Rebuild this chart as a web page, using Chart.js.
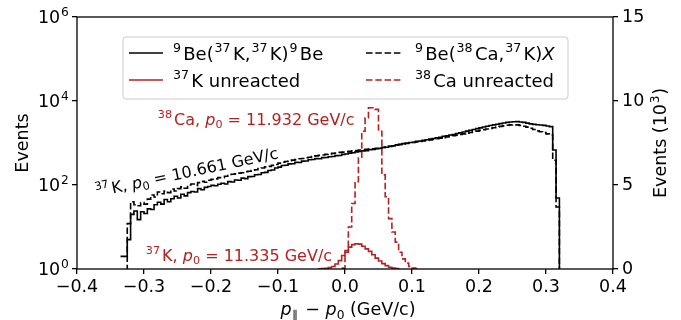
<!DOCTYPE html>
<html lang="en">
<head>
<meta charset="UTF-8">
<title>Parallel momentum distributions</title>
<script src="https://cdn.jsdelivr.net/npm/chart.js"></script>
<style>
  html, body { margin: 0; padding: 0; background: #fff; }
  canvas { display: block; }
</style>
</head>
<body>
<canvas id="chart" width="681" height="320"></canvas>
<script>
// histogram bins are 0.005 GeV/c wide, values listed from the left edge given
const binWidth = 0.005;

// 9Be(37K,37K)9Be and 9Be(38Ca,37K)X, left axis (log), edges from -0.335
const knockStart = -0.335;
const knockoutK = [
  2, 2, 5, 20, 24, 15, 23, 21, 27, 26, 34, 39, 35, 45, 40, 47, 54, 49, 60, 55,
  66, 70, 68, 82, 77, 88, 92, 98, 96, 104, 110, 106, 120, 118, 132, 130, 146, 142, 158, 160,
  175, 178, 196, 200, 222, 228, 255, 266, 292, 296, 318, 320, 345, 342, 370, 372, 398, 405, 425, 422,
  448, 452, 470, 476, 500, 505, 535, 545, 575, 585, 615, 625, 650, 660, 695, 700, 730, 745, 785, 795,
  835, 855, 905, 925, 965, 985, 1025, 1045, 1095, 1115, 1165, 1195, 1245, 1285, 1335, 1375, 1435, 1475, 1545, 1595,
  1685, 1745, 1835, 1915, 2005, 2095, 2205, 2295, 2405, 2495, 2605, 2695, 2805, 2895, 3005, 3095, 3155, 3195, 3225, 3175,
  3105, 2975, 2855, 2775, 2725, 2675, 2625, 2545, 2455, 680, 49, 0.1, 0.1
];
const knockoutCa = [
  0.1, 0.1, 12, 40, 34, 32, 38, 35, 46, 58, 52, 68, 62, 72, 66, 80, 72, 82, 90, 84,
  100, 106, 98, 114, 122, 116, 130, 136, 140, 150, 150, 162, 168, 180, 184, 192, 196, 208, 212, 224,
  230, 246, 254, 270, 278, 294, 308, 332, 348, 364, 372, 392, 402, 420, 428, 447, 458, 482, 493, 507,
  518, 537, 548, 567, 578, 597, 608, 622, 633, 652, 663, 682, 688, 707, 718, 732, 743, 762, 783, 812,
  833, 862, 888, 922, 948, 977, 998, 1032, 1058, 1092, 1118, 1152, 1188, 1222, 1258, 1302, 1338, 1392, 1428, 1482,
  1538, 1592, 1648, 1722, 1778, 1852, 1918, 2002, 2078, 2152, 2228, 2312, 2398, 2482, 2558, 2642, 2698, 2722, 2698, 2622,
  2498, 2382, 2248, 2102, 1948, 1852, 1778, 1652, 1548, 390, 30, 0.1, 0.1
];

// unreacted beams, right axis (10^3 events)
const unreactedKStart = -0.04;
const unreactedK = [
  0.01, 0.02, 0.04, 0.08, 0.15, 0.3, 0.5, 0.8, 1.1, 1.3, 1.45, 1.5, 1.48, 1.35, 1.2, 1.05,
  0.85, 0.65, 0.48, 0.32, 0.2, 0.1, 0.05, 0.02, 0
];
const unreactedCaStart = -0.005;
const unreactedCa = [
  0.05, 1.0, 2.5, 3.9, 5.2, 6.6, 8.2, 9.0, 9.6, 9.6, 9.5, 8.2, 5.6, 4.3, 3.0, 2.2,
  1.6, 1.0, 0.6, 0.35, 0.15, 0.05, 0.02, 0
];

const logTicks = [1, 1e2, 1e4, 1e6];
const logTickExp = ['0', '2', '4', '6'];

const RED = '#b22222';
const FONT = '"DejaVu Sans", sans-serif';
const FS = 17.5;

function steps(start, vals) {
  return vals.map((v, i) => ({ x: Math.round((start + i * binWidth) * 1000) / 1000, y: v }));
}

// rich text: parts are [text, style, extraAfter], style '' normal, 'i' italic, '^' sup, '_' sub
function partFont(style, size) {
  const s = (style === '^' || style === '_') ? size * 0.7 : size;
  return (style === 'i' ? 'italic ' : '') + s + 'px ' + FONT;
}
function advance(ctx, p, size) {
  ctx.font = partFont(p[1], size);
  let w = ctx.measureText(p[0]).width + (p[2] || 0);
  if (p[1] === '^') w += 0.18 * size;
  return w;
}
function richWidth(ctx, parts, size) {
  return parts.reduce((w, p) => w + advance(ctx, p, size), 0);
}
function drawRich(ctx, parts, x, y, size, color, align) {
  const w = richWidth(ctx, parts, size);
  let cx = align === 'center' ? x - w / 2 : align === 'right' ? x - w : x;
  ctx.fillStyle = color;
  ctx.textBaseline = 'alphabetic';
  ctx.textAlign = 'left';
  parts.forEach(p => {
    const a = advance(ctx, p, size);
    ctx.font = partFont(p[1], size);
    let dy = 0, dx = 0;
    if (p[1] === '^') { dy = -0.42 * size; dx = 0.05 * size; }
    if (p[1] === '_') dy = 0.2 * size;
    ctx.fillText(p[0], cx + dx, y + dy);
    cx += a;
  });
}

const legendItems = [
  { parts: [['9', '^'], ['Be(', ''], ['37', '^'], ['K,', ''], ['37', '^'], ['K)', ''], ['9', '^'], ['Be', '']], color: '#000', dash: [], col: 0, row: 0 },
  { parts: [['9', '^'], ['Be(', ''], ['38', '^'], ['Ca,', ''], ['37', '^'], ['K)', ''], ['X', 'i']], color: '#000', dash: [6.5, 2.8], col: 1, row: 0 },
  { parts: [['37', '^'], ['K unreacted', '']], color: RED, dash: [], col: 0, row: 1 },
  { parts: [['38', '^'], ['Ca unreacted', '']], color: RED, dash: [6.5, 2.8], col: 1, row: 1 }
];

const decorPlugin = {
  id: 'decor',
  afterDatasetsDraw(chart) {
    const ctx = chart.ctx;
    const ca = chart.chartArea;
    const yLog = chart.scales.y;
    ctx.save();
    // frame
    ctx.strokeStyle = '#000';
    ctx.lineWidth = 1.3;
    ctx.strokeRect(ca.left, ca.top, ca.right - ca.left, ca.bottom - ca.top);

    // log axis labels
    logTicks.forEach((v, i) => {
      const py = yLog.getPixelForValue(v);
      drawRich(ctx, [['10', ''], [logTickExp[i], '^', -0.18 * FS]], ca.left - 9, py + 6.3, FS, '#000', 'right');
    });

    // annotations
    drawRich(ctx, [['38', '^'], ['Ca, ', ''], ['p', 'i'], ['0', '_'], [' = 11.932 GeV/c', '']], 157, 125, 16, RED, 'left');
    drawRich(ctx, [['37', '^'], ['K, ', ''], ['p', 'i'], ['0', '_'], [' = 11.335 GeV/c', '']], 145, 261, 16, RED, 'left');
    ctx.save();
    ctx.translate(96, 197);
    ctx.rotate(-12 * Math.PI / 180);
    drawRich(ctx, [['37', '^'], ['K, ', ''], ['p', 'i'], ['0', '_'], [' = 10.661 GeV/c', '']], 0, 0, 16, '#000', 'left');
    ctx.restore();

    // legend
    ctx.beginPath();
    ctx.roundRect(123, 37, 445, 62, 3);
    ctx.fillStyle = 'rgba(255,255,255,0.8)';
    ctx.fill();
    ctx.strokeStyle = '#cccccc';
    ctx.lineWidth = 1;
    ctx.stroke();
    const lineX = [[129, 163], [366, 401]];
    const textX = [172, 414];
    const rowY = [53, 80];
    legendItems.forEach(it => {
      const ly = rowY[it.row];
      ctx.beginPath();
      ctx.setLineDash(it.dash);
      ctx.strokeStyle = it.color;
      ctx.lineWidth = 1.6;
      ctx.moveTo(lineX[it.col][0], ly);
      ctx.lineTo(lineX[it.col][1], ly);
      ctx.stroke();
      ctx.setLineDash([]);
      drawRich(ctx, it.parts, textX[it.col], ly + 6.5, 18, '#000', 'left');
    });

    // axis titles
    drawRich(ctx, [['p', 'i'], ['\u2225', '_', 2], [' \u2212 ', ''], ['p', 'i'], ['0', '_'], [' (GeV/c)', '']], 348, 315, FS, '#000', 'center');
    ctx.save();
    ctx.translate(27.5, 143);
    ctx.rotate(-Math.PI / 2);
    drawRich(ctx, [['Events', '']], 0, 0, FS, '#000', 'center');
    ctx.restore();
    ctx.save();
    ctx.translate(666, 143);
    ctx.rotate(-Math.PI / 2);
    drawRich(ctx, [['Events (10', ''], ['3', '^', -0.1 * FS], [')', '']], 0, 0, FS, '#000', 'center');
    ctx.restore();
    ctx.restore();
  }
};

const axisGrid = { drawOnChartArea: false, drawTicks: true, tickLength: 5, color: '#000', tickColor: '#000', lineWidth: 1.3 };

new Chart(document.getElementById('chart').getContext('2d'), {
  type: 'line',
  data: {
    datasets: [
      { label: '37K unreacted', data: steps(unreactedKStart, unreactedK), yAxisID: 'y2', borderColor: RED },
      { label: '38Ca unreacted', data: steps(unreactedCaStart, unreactedCa), yAxisID: 'y2', borderColor: RED, borderDash: [6.5, 2.8] },
      { label: '9Be(37K,37K)9Be', data: steps(knockStart, knockoutK), yAxisID: 'y', borderColor: '#000' },
      { label: '9Be(38Ca,37K)X', data: steps(knockStart, knockoutCa), yAxisID: 'y', borderColor: '#000', borderDash: [6.5, 2.8] }
    ]
  },
  options: {
    responsive: false,
    animation: false,
    layout: { padding: { top: 17, left: 0, right: 0, bottom: 0 } },
    datasets: { line: { stepped: 'before', pointRadius: 0, borderWidth: 1.6, fill: false, tension: 0 } },
    plugins: { legend: { display: false }, tooltip: { enabled: false } },
    scales: {
      x: {
        type: 'linear', min: -0.4, max: 0.4,
        grid: axisGrid, border: { display: false },
        ticks: {
          stepSize: 0.1, color: '#000', padding: 3, maxRotation: 0,
          font: { family: FONT, size: FS },
          callback: v => Math.abs(v) < 1e-9 ? '0.0' : v.toFixed(1).replace('-', '\u2212')
        },
        afterFit: s => { s.height = 51; s.paddingLeft = 0; s.paddingRight = 0; }
      },
      y: {
        type: 'logarithmic', position: 'left', min: 1, max: 1e6,
        grid: axisGrid, border: { display: false },
        ticks: { display: false },
        afterBuildTicks: s => { s.ticks = logTicks.map(v => ({ value: v, major: true })); },
        afterFit: s => { s.width = 77; s.paddingTop = 0; s.paddingBottom = 0; }
      },
      y2: {
        type: 'linear', position: 'right', min: 0, max: 15,
        grid: axisGrid, border: { display: false },
        ticks: { stepSize: 5, color: '#000', padding: 4, font: { family: FONT, size: FS } },
        afterFit: s => { s.width = 68; s.paddingTop = 0; s.paddingBottom = 0; }
      }
    }
  },
  plugins: [decorPlugin]
});
</script>
</body>
</html>
